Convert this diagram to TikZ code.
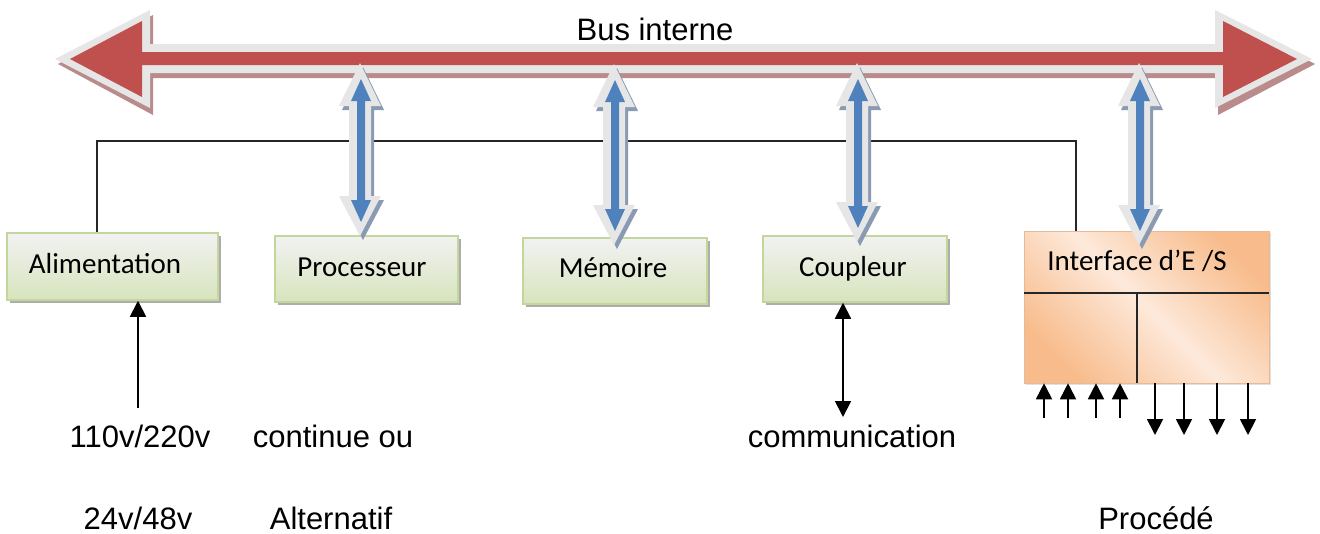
\documentclass[tikz,border=0pt]{standalone}
\usepackage{fontspec}
\setmainfont{Liberation Sans}
\newfontfamily\boxfont{Carlito}
\usetikzlibrary{arrows.meta,shadows,calc}

\definecolor{busred}{HTML}{C0504D}
\definecolor{busedge}{HTML}{E6E6E6}
\definecolor{busshadow}{HTML}{B98B8B}
\definecolor{linkblue}{HTML}{4F81BD}
\definecolor{linkshadow}{HTML}{8A9AB2}
\definecolor{boxtop}{HTML}{F2F2F2}
\definecolor{boxbot}{HTML}{D7E4BD}
\definecolor{boxedge}{HTML}{C3D69B}
\definecolor{ioin}{HTML}{FDE9DA}
\definecolor{ioout}{HTML}{F8BC8C}

% double-headed link between the bus and a module, centred on x = #1
\newcommand\linkarrow[3]{%
  \begin{scope}[shift={(#1,0)}]
    \fill[linkshadow] (3,#2+4) -- (24,#2+47) -- (14,#2+47) -- (14,#3-36) -- (24,#3-36)
      -- (3,#3+4) -- (-18,#3-36) -- (-8,#3-36) -- (-8,#2+47) -- (-18,#2+47) -- cycle;
    \fill[busedge] (0,#2) -- (21,#2+43) -- (11,#2+43) -- (11,#3-40) -- (21,#3-40)
      -- (0,#3) -- (-21,#3-40) -- (-11,#3-40) -- (-11,#2+43) -- (-21,#2+43) -- cycle;
    \fill[linkblue] (1,#2+16) -- (11,#2+38) -- (5,#2+38) -- (5,#3-36) -- (11,#3-36)
      -- (1,#3-14) -- (-9,#3-36) -- (-3,#3-36) -- (-3,#2+38) -- (-9,#2+38) -- cycle;
  \end{scope}}

\tikzset{
  lbl/.style={font=\fontsize{31}{36}\selectfont, inner sep=0pt, anchor=base},
  boxlbl/.style={font=\boxfont\fontsize{29}{34}\selectfont, inner sep=0pt, anchor=base},
  greenbox/.style={draw=boxedge, line width=1.5pt, top color=boxtop, bottom color=boxbot,
    inner sep=0pt, drop shadow={shadow xshift=3pt, shadow yshift=-3pt, fill=black!40, opacity=0.8}},
  iobox/.style={draw=ioout!90!black!80, line width=0.6pt, left color=ioout, right color=ioout,
    middle color=ioin, shading angle=-45, inner sep=0pt,
    drop shadow={shadow xshift=2pt, shadow yshift=-2pt, fill=black!20, opacity=0.6}},
  thinline/.style={line width=1.4pt, draw=black!85},
  tip/.tip={Triangle[width=16pt,length=16pt]},
  sig/.style={line width=1.8pt, -tip},
  sigboth/.style={line width=1.8pt, tip-tip},
}

\begin{document}
\begin{tikzpicture}[x=1pt, y=-1pt]
\useasboundingbox[fill=white] (0,0) rectangle (1320,533);

% modules
\node[greenbox, minimum width=211pt, minimum height=67pt] (alim) at (112.5,266.5) {};
\node[greenbox, minimum width=183pt, minimum height=66pt] (proc) at (366.5,269) {};
\node[greenbox, minimum width=184pt, minimum height=66pt] (mem)  at (615,271) {};
\node[greenbox, minimum width=184pt, minimum height=66pt] (coup) at (855,269) {};
\node[iobox, minimum width=245pt, minimum height=152pt] (iface) at (1146.5,307) {};

% supply line from the power module to the I/O interface
\coordinate (feed-a) at (97,141);
\coordinate (feed-b) at (1076,141);
\draw[thinline] (alim.north -| feed-a) -- (feed-a) -- (feed-b) -- (iface.north -| feed-b);

% internal bus
\fill[busshadow] (58,64) -- (153,15) -- (153,49) -- (1218,49) -- (1218,15) -- (1315,64)
  -- (1218,115) -- (1218,78) -- (153,78) -- (153,115) -- cycle;
\fill[busedge] (55,59) -- (150,10) -- (150,44) -- (1215,44) -- (1215,10) -- (1312,59)
  -- (1215,108) -- (1215,73) -- (150,73) -- (150,108) -- cycle;
\fill[busred] (70,59) -- (142,21) -- (142,52) -- (1223,52) -- (1223,21) -- (1297,59)
  -- (1223,97) -- (1223,65) -- (142,65) -- (142,97) -- cycle;
\node[lbl] (bus) at (655,40) {Bus interne};

% links between the bus and the modules
\linkarrow{360}{63}{236}
\linkarrow{614}{64}{245}
\linkarrow{857}{63}{242}
\linkarrow{1139}{63}{245}

% I/O interface partitions
\coordinate (io-split) at (1137,293);
\draw[thinline] (iface.west |- io-split) -- (iface.east |- io-split);
\draw[thinline] (io-split) -- (io-split |- iface.south);

% module labels
\node[boxlbl] (alim-t) at (105,273) {Alimentation};
\node[boxlbl] (proc-t) at (362,276) {Processeur};
\node[boxlbl] (mem-t)  at (613,277) {Mémoire};
\node[boxlbl] (coup-t) at (853,276) {Coupleur};
\node[boxlbl] (io-t)   at (1137,270) {Interface d’E /S};

% power input
\coordinate (pw-in) at (138,408);
\draw[sig] (pw-in) -- (pw-in |- alim.south);

% communication link
\coordinate (com-end) at (843,417);
\draw[sigboth] (com-end |- coup.south) -- (com-end);

% process inputs and outputs
\foreach \x [count=\i] in {1044,1068,1096,1120} {
  \coordinate (in-\i) at (\x,418);
  \draw[sig] (in-\i) -- (in-\i |- iface.south);
}
\foreach \x [count=\i] in {1155,1184,1217,1248} {
  \coordinate (out-\i) at (\x,435);
  \draw[sig] (out-\i |- iface.south) -- (out-\i);
}

% captions
\node[lbl] (v1) at (140,447) {110v/220v};
\node[lbl] (v2) at (138,529) {24v/48v};
\node[lbl] (c1) at (333,447) {continue ou};
\node[lbl] (c2) at (331,529) {Alternatif};
\node[lbl] (cm) at (852,447) {communication};
\node[lbl] (pr) at (1156,529) {Procédé};
\end{tikzpicture}
\end{document}
